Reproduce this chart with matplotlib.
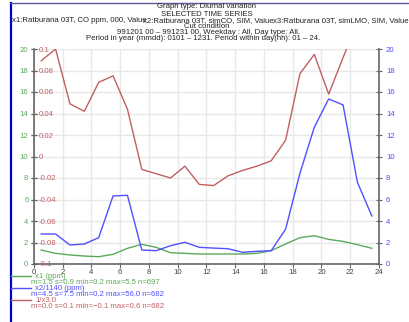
import numpy as np
import matplotlib
matplotlib.use("Agg")
import matplotlib.pyplot as plt
from matplotlib.lines import Line2D

plt.rcParams['font.family'] = ['Liberation Sans', 'DejaVu Sans']

hours = [0.5, 1.5, 2.5, 3.5, 4.5, 5.5, 6.5, 7.5, 8.5, 9.5, 10.5, 11.5,
         12.5, 13.5, 14.5, 15.5, 16.5, 17.5, 18.5, 19.5, 20.5, 21.5, 22.5, 23.5]
x1_ppm = [1.30, 0.99, 0.84, 0.74, 0.68, 0.90, 1.46, 1.83, 1.55, 1.05, 0.99, 0.93,
          0.93, 0.93, 0.93, 0.99, 1.24, 1.86, 2.45, 2.63, 2.29, 2.10, 1.80, 1.46]
x2_scaled = [2.79, 2.79, 1.77, 1.86, 2.45, 6.33, 6.39, 1.30, 1.24, 1.70, 2.02, 1.55,
             1.48, 1.42, 1.09, 1.18, 1.24, 3.23, 8.44, 12.72, 15.35, 14.8, 7.6, 4.47]
x3_inv = [0.089, 0.100, 0.049, 0.042, 0.069, 0.075, 0.044, -0.012, -0.016, -0.020, -0.009, -0.026,
          -0.027, -0.018, -0.013, -0.009, -0.004, 0.015, 0.077, 0.095, 0.058, 0.092, 0.125, 0.13]

x_ticks = list(range(0, 25, 2))
left_ticks = list(range(0, 21, 2))
red_ticks = [-0.1, -0.08, -0.06, -0.04, -0.02, 0, 0.02, 0.04, 0.06, 0.08, 0.1]
red_labels = ['-0.1', '-0.08', '-0.06', '-0.04', '-0.02', '0', '0.02', '0.04', '0.06', '0.08', '0.1']

title_lines = ["Graph type: Diurnal variation", "SELECTED TIME SERIES"]
series_lines = ["x1:Ratburana 03T, CO ppm, 000, Value",
                "x2:Ratburana 03T, simCO, SIM, Value",
                "x3:Ratburana 03T, simLMO, SIM, Value"]
cut_lines = ["Cut condition",
             "991201 00 \u2013 991231 00, Weekday : All, Day type: All.",
             "Period in year (mmdd): 0101 \u2013 1231. Period within day(hh): 01 \u2013 24."]
legend_names = ["x1 (ppm)", "x2/1140 (ppm)", "1/x3.0"]
legend_stats = ["m=1.5 s=0.9 min=0.2 max=5.5 n=697",
                "m=4.5 s=7.5 min=0.2 max=56.0 n=682",
                "m=0.0 s=0.1 min=\u22120.1 max=0.6 n=682"]

GREEN = '#5aaa5a'
BLUE = '#5050ff'
RED = '#c06060'
AXC = '#666666'
GRID = '#e8e8e8'
FS = 5.6

W, H = 410, 322
fig = plt.figure(figsize=(W / 100, H / 100), dpi=100)
fig.patch.set_facecolor('white')

ax = fig.add_axes([34 / W, (H - 264) / H, (379 - 34) / W, (264 - 49) / H])
ax.set_xlim(0, 24)
ax.set_ylim(0, 20)
ax.set_xticks(x_ticks)
ax.set_yticks(left_ticks)
ax.grid(True, color=GRID, linewidth=1.0)
ax.set_axisbelow(True)
for s in ['top', 'right']:
    ax.spines[s].set_visible(False)
for s in ['left', 'bottom']:
    ax.spines[s].set_color(AXC)
    ax.spines[s].set_linewidth(1.2)
ax.tick_params(axis='y', colors=AXC, labelcolor=GREEN, direction='inout', length=5,
               width=0.8, labelsize=FS, pad=1.5)
ax.tick_params(axis='x', colors=AXC, labelcolor='#444444', direction='out', length=3,
               width=0.8, labelsize=FS, pad=0.5)
ax.plot(hours, x1_ppm, color=GREEN, linewidth=1.0, zorder=3)

# red axis: labels drawn just inside the left spine
axr = ax.twinx()
axr.set_ylim(-0.1, 0.1)
axr.set_yticks(red_ticks)
axr.set_yticklabels(red_labels)
axr.spines['right'].set_position(('axes', 0))
for s in ['top', 'left', 'bottom', 'right']:
    axr.spines[s].set_visible(False)
axr.yaxis.tick_right()
axr.tick_params(axis='y', colors=AXC, labelcolor=RED, direction='inout', length=5,
                width=0.8, labelsize=FS, pad=1.2)
axr.plot(hours, x3_inv, color=RED, linewidth=1.0, zorder=3)

# blue axis on the right
axb = ax.twinx()
axb.set_ylim(0, 20)
axb.set_yticks(left_ticks)
for s in ['top', 'left', 'bottom']:
    axb.spines[s].set_visible(False)
axb.spines['right'].set_color(AXC)
axb.spines['right'].set_linewidth(1.2)
axb.tick_params(axis='y', colors=AXC, labelcolor=BLUE, direction='inout', length=5,
                width=0.8, labelsize=FS, pad=2.5)
axb.plot(hours, x2_scaled, color=BLUE, linewidth=1.0, zorder=3)

# frame lines
fig.add_artist(Line2D([11 / W, 11 / W], [0, 1 - 3 / H], color='#0000cc', linewidth=1.6))
fig.add_artist(Line2D([11 / W, 1], [1 - 3 / H, 1 - 3 / H], color='#5a5a9a', linewidth=1.0))

# header text
tc = '#222222'
fig.text(207 / W, 1 - 7 / H, title_lines[0], ha='center', va='center', fontsize=FS, color=tc)
fig.text(207 / W, 1 - 14 / H, title_lines[1], ha='center', va='center', fontsize=FS, color=tc)
for xpos, txt in zip([12, 143, 273], series_lines):
    fig.text(xpos / W, 1 - 21 / H, txt, ha='left', va='center', fontsize=FS, color=tc)
fig.text(207 / W, 1 - 27 / H, cut_lines[0], ha='center', va='center', fontsize=FS, color=tc)
fig.text(209 / W, 1 - 33 / H, cut_lines[1], ha='center', va='center', fontsize=FS, color=tc)
fig.text(203 / W, 1 - 38.5 / H, cut_lines[2], ha='center', va='center', fontsize=FS, color=tc)

# legend below the plot
for i, (col, name, stat) in enumerate(zip([GREEN, BLUE, RED], legend_names, legend_stats)):
    y0 = 276 + i * 12
    fig.add_artist(Line2D([11 / W, 31 / W], [1 - y0 / H, 1 - y0 / H], color=col, linewidth=1.0))
    fig.text(35 / W, 1 - y0 / H, name, ha='left', va='center', fontsize=FS, color=col)
    fig.text(31 / W, 1 - (y0 + 6.5) / H, stat, ha='left', va='center', fontsize=FS, color=col)

fig.savefig('out.png', dpi=100)
